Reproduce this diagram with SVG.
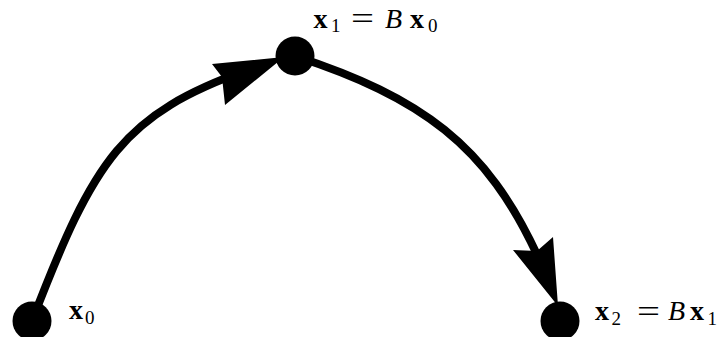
<svg xmlns="http://www.w3.org/2000/svg" width="717" height="337" viewBox="0 0 717 337">
<style>
.edge{fill:none;stroke:#000;stroke-width:8}
.head{fill:#000;stroke:none}
.node{fill:#000}
text{font-family:"Liberation Serif","Times New Roman",serif;font-size:28px;fill:#000}
.b{font-weight:bold}
.i{font-style:italic}
.s{font-size:19px}
.eq{font-size:32px}
</style>
<rect width="717" height="337" fill="#fff"/>
<g id="connectors">
<path class="edge" d="M32,321 C94.6,158.2 122.4,114.7 249.5,69.1"/>
<polygon class="head" points="284,57 212,64 222,77 225,105"/>
<path class="edge" d="M295,56 C421.5,97.3 486.7,145.2 537.7,256"/>
<polygon class="head" points="558,306 513,250 537,251 553,237"/>
</g>
<g id="node-x0">
<circle class="node" cx="32" cy="321" r="19.5"/>
<text><tspan class="b" x="69" y="319">x</tspan><tspan class="s" x="85" y="323.5">0</tspan></text>
</g>
<g id="node-x1">
<circle class="node" cx="295" cy="56" r="19.5"/>
<text><tspan class="b" x="313.5" y="27.5">x</tspan><tspan class="s" x="331" y="32">1</tspan><tspan class="eq" x="351" y="29" textLength="23" lengthAdjust="spacingAndGlyphs">=</tspan><tspan class="i" x="385" y="27.5">B</tspan><tspan class="b" x="410" y="27.5">x</tspan><tspan class="s" x="428" y="32">0</tspan></text>
</g>
<g id="node-x2">
<circle class="node" cx="560" cy="321" r="19.5"/>
<text><tspan class="b" x="595" y="320">x</tspan><tspan class="s" x="611.5" y="324.5">2</tspan><tspan class="eq" x="637" y="321.5" textLength="23" lengthAdjust="spacingAndGlyphs">=</tspan><tspan class="i" x="668" y="320">B</tspan><tspan class="b" x="690" y="320">x</tspan><tspan class="s" x="707.5" y="324.5">1</tspan></text>
</g>
</svg>
